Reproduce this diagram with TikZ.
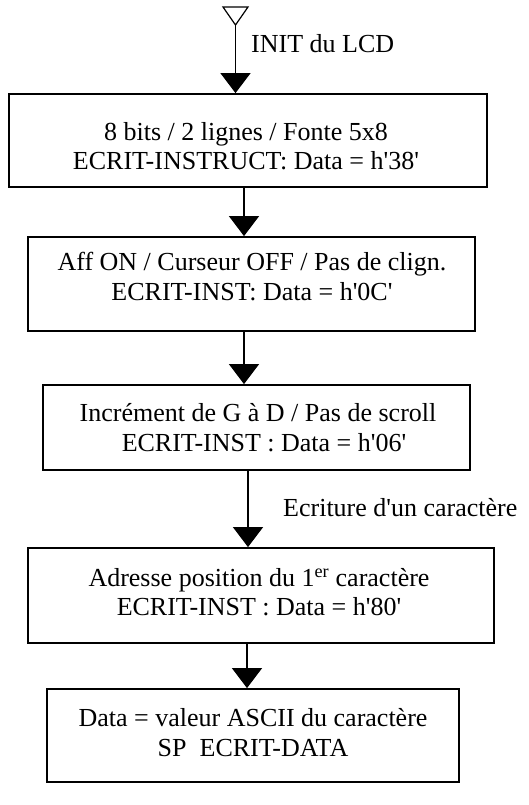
\documentclass[tikz,border=0pt]{standalone}
\usepackage{fontspec}
\setmainfont{Liberation Serif}
\usepackage{tikz}
\usetikzlibrary{arrows.meta, positioning}

\newcommand{\hx}[1]{h\textquotesingle#1\textquotesingle}

\begin{document}
\begin{tikzpicture}[x=1pt, y=-1pt,
  font=\fontsize{26}{29.5}\selectfont,
  etape/.style={draw, line width=1.8pt, inner sep=0pt},
  txt/.style={align=center, inner sep=0pt},
  fleche/.style={line width=1.2pt, -{Triangle[width=30pt, length=20pt]}}]
  \useasboundingbox (0,0) rectangle (528,805);

  \draw[line width=1.2pt] (223,7) -- (248,7) -- (235.5,25) coordinate (debut) -- cycle;
  \node[txt, anchor=west] (init) at (251,44) {INIT du LCD};

  \node[etape, minimum width=478pt, minimum height=93pt] (e1) at (248,140.5) {};
  \node[txt] (t1) at (246,146) {8 bits / 2 lignes / Fonte 5x8\\ECRIT-INSTRUCT: Data = \hx{38}};

  \node[etape, minimum width=447pt, minimum height=94pt] (e2) at (251.5,284) {};
  \node[txt] (t2) at (252,276.5) {Aff ON / Curseur OFF / Pas de clign.\\ECRIT-INST: Data = \hx{0C}};

  \node[etape, minimum width=427pt, minimum height=85pt] (e3) at (256.5,427.5) {};
  \node[txt] (t3) at (258,427.5) {Incrément de G à D / Pas de scroll\\\hspace*{12pt}ECRIT-INST : Data = \hx{06}};

  \node[txt, anchor=west] (ecr) at (283,508) {Ecriture d\textquotesingle un caractère};

  \node[etape, minimum width=466pt, minimum height=95pt] (e4) at (261,595.5) {};
  \node[txt] (t4) at (259,592) {Adresse position du 1\textsuperscript{er} caractère\\ECRIT-INST : Data = \hx{80}};

  \node[etape, minimum width=412pt, minimum height=93pt] (e5) at (253,735.5) {};
  \node[txt] (t5) at (253,732.5) {Data = valeur ASCII du caractère\\SP\ \ ECRIT-DATA};

  \draw[fleche] (debut) -- (e1.north -| debut);
  \draw[fleche] (e1.south -| 244,0) -- (e2.north -| 244,0);
  \draw[fleche] (e2.south -| 244,0) -- (e3.north -| 244,0);
  \draw[fleche] (e3.south -| 248,0) -- (e4.north -| 248,0);
  \draw[fleche] (e4.south -| 247,0) -- (e5.north -| 247,0);
\end{tikzpicture}
\end{document}
